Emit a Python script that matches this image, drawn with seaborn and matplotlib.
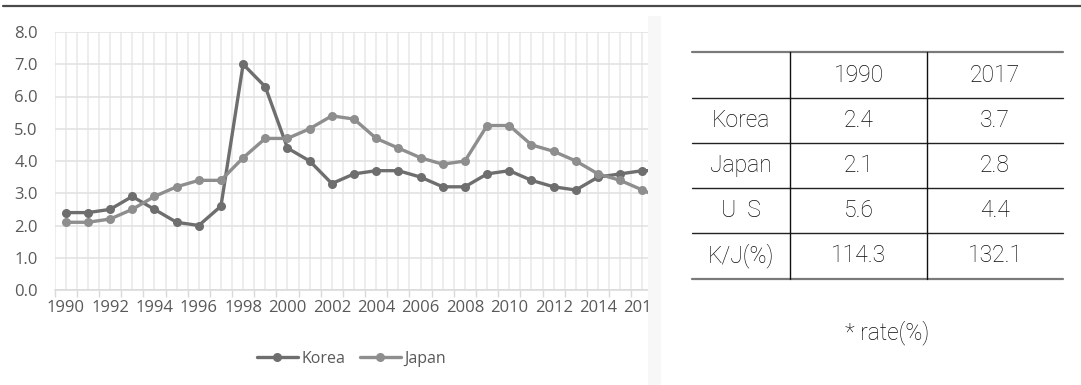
import matplotlib
matplotlib.use("Agg")
import matplotlib.pyplot as plt
from matplotlib.patches import Rectangle
from matplotlib.lines import Line2D
from matplotlib.transforms import Bbox, TransformedBbox
from matplotlib import font_manager as fm
import pandas as pd
import seaborn as sns

# ---- series data ----
years = list(range(1990, 2018))
korea = [2.4, 2.4, 2.5, 2.9, 2.5, 2.1, 2.0, 2.6, 7.0, 6.3,
         4.4, 4.0, 3.3, 3.6, 3.7, 3.7, 3.5, 3.2, 3.2, 3.6,
         3.7, 3.4, 3.2, 3.1, 3.5, 3.6, 3.7, 3.7]
japan = [2.1, 2.1, 2.2, 2.5, 2.9, 3.2, 3.4, 3.4, 4.1, 4.7,
         4.7, 5.0, 5.4, 5.3, 4.7, 4.4, 4.1, 3.9, 4.0, 5.1,
         5.1, 4.5, 4.3, 4.0, 3.6, 3.4, 3.1, 2.8]
series_names = ["Korea", "Japan"]
y_ticks = [0.0, 1.0, 2.0, 3.0, 4.0, 5.0, 6.0, 7.0, 8.0]
year_labels = [str(y) if y % 2 == 0 else "" for y in years]

# ---- table data ----
col_headers = ["", "1990", "2017"]
row_headers = ["Korea", "Japan", "U  S", "K/J(%)"]
col_1990 = ["2.4", "2.1", "5.6", "114.3"]
col_2017 = ["3.7", "2.8", "4.4", "132.1"]
note_text = "* rate(%)"


def pick_light_family():
    """Return the first family that has a real Light face installed."""
    for fam in ["Noto Sans CJK KR", "Noto Sans KR", "Roboto", "Open Sans",
                "Lato", "Inter", "Noto Sans"]:
        try:
            path = fm.findfont(fm.FontProperties(family=fam, weight="light"),
                               fallback_to_default=False)
        except Exception:
            continue
        if "light" in path.lower() or "thin" in path.lower():
            return fam, "light"
    return "Noto Sans CJK KR", "normal"


sns.set_theme(style="white")
plt.rcParams["font.family"] = ["Open Sans", "DejaVu Sans"]

W, H = 1081, 385
fig = plt.figure(figsize=(W / 100, H / 100), dpi=100)
fig.patch.set_facecolor("white")

df = pd.DataFrame({
    "year": years * 2,
    "rate": korea + japan,
    "country": ["Korea"] * len(years) + ["Japan"] * len(years),
})

palette = {"Korea": "#6e6e6e", "Japan": "#8e8e8e"}

ax_left, ax_right, ax_top, ax_bottom = 54.6, 648, 32, 290
ax = fig.add_axes([ax_left / W, (H - ax_bottom) / H,
                   (ax_right - ax_left) / W, (ax_bottom - ax_top) / H])

sns.lineplot(data=df, x="year", y="rate", hue="country", hue_order=series_names,
             palette=palette, marker="o", markersize=6.5, markeredgewidth=0,
             linewidth=2.4, ax=ax, legend=False, zorder=3)

ax.set_xlabel("")
ax.set_ylabel("")

# category boundaries carry tick marks, centres carry labels
boundaries = [y - 0.5 for y in years] + [years[-1] + 0.5]
ax.set_xticks(boundaries, labels=[""] * len(boundaries))
ax.set_xticks(years, labels=year_labels, minor=True)
ax.set_xlim(1989.5, 1990 + (ax_right - 65.7) / 22.18)
ax.set_ylim(0, 8)
ax.tick_params(axis="x", which="major", length=5, width=1, color="#d9d9d9",
               bottom=True, direction="out")
ax.tick_params(axis="x", which="minor", length=0, pad=7, labelsize=12,
               labelcolor="#595959")
ax.set_yticks(y_ticks, labels=[f"{v:.1f}" for v in y_ticks])
ax.tick_params(axis="y", length=0, pad=12, labelsize=12, labelcolor="#595959")

ax.grid(True, which="both", axis="x", color="#e8e8e8", linewidth=1.1, zorder=0)
ax.grid(True, which="major", axis="y", color="#e0e0e0", linewidth=1.1, zorder=0)
ax.set_axisbelow(True)
for side in ["top", "right", "left"]:
    ax.spines[side].set_visible(False)
ax.spines["bottom"].set_color("#d9d9d9")
ax.spines["bottom"].set_linewidth(1.1)

clip = TransformedBbox(Bbox.from_extents(0, 0, ax_right / 100, H / 100),
                       fig.dpi_scale_trans)
for lab in ax.xaxis.get_minorticklabels():
    lab.set_clip_on(True)
    lab.set_clip_box(clip)

handles = [Line2D([], [], color=palette[n], marker="o", markersize=6.5,
                  markeredgewidth=0, linewidth=2.4) for n in series_names]
ax.legend(handles, series_names, loc="center", frameon=False,
          bbox_to_anchor=(0.5, (H - 359 - (H - ax_bottom)) / (ax_bottom - ax_top)),
          ncol=2, fontsize=11.5, handlelength=2.6, handletextpad=0.2,
          columnspacing=0.9, labelcolor="#595959")

# light panel edge to the right of the chart
fig.add_artist(Rectangle((ax_right / W, 0), 13 / W, (H - 16) / H,
                         transform=fig.transFigure, facecolor="#f7f7f7",
                         edgecolor="none", zorder=5))

# top rule across the whole figure
fig.add_artist(Line2D([0.003, 1], [(H - 6) / H] * 2, transform=fig.transFigure,
                      color="#4a4a4a", linewidth=1.6, zorder=6))

# ---- comparison table ----
tx = fig.add_axes([0, 0, 1, 1], zorder=7)
tx.set_xlim(0, W)
tx.set_ylim(H, 0)
tx.axis("off")
tx.patch.set_alpha(0)

col_edges = [692, 790, 927, 1063]
row_edges = [52, 98, 143, 188, 233, 279]
col_centers = [(col_edges[i] + col_edges[i + 1]) / 2 for i in range(3)]
row_centers = [(row_edges[i] + row_edges[i + 1]) / 2 for i in range(5)]

for i, yv in enumerate(row_edges):
    if i in (0, len(row_edges) - 1):
        tx.plot([col_edges[0], col_edges[-1]], [yv, yv], color="#7a7a7a", lw=1.6)
    else:
        tx.plot([col_edges[0], col_edges[-1]], [yv, yv], color="#222222", lw=1.0)
for xv in col_edges[1:-1]:
    tx.plot([xv, xv], [row_edges[0], row_edges[-1]], color="#111111", lw=1.0)

light_family, light_weight = pick_light_family()
tfont = dict(family=[light_family, "DejaVu Sans"], fontweight=light_weight,
             fontsize=16.5, color="#0a0a0a", ha="center", va="center")
for j, h in enumerate(col_headers):
    if h:
        tx.text(col_centers[j], row_centers[0], h, **tfont)
rows = list(zip(row_headers, col_1990, col_2017))
for i, r in enumerate(rows):
    for j, v in enumerate(r):
        tx.text(col_centers[j], row_centers[i + 1], v, **tfont)
tx.text(887, 333, note_text, **tfont)

fig.savefig("out.png", dpi=100, facecolor="white")
